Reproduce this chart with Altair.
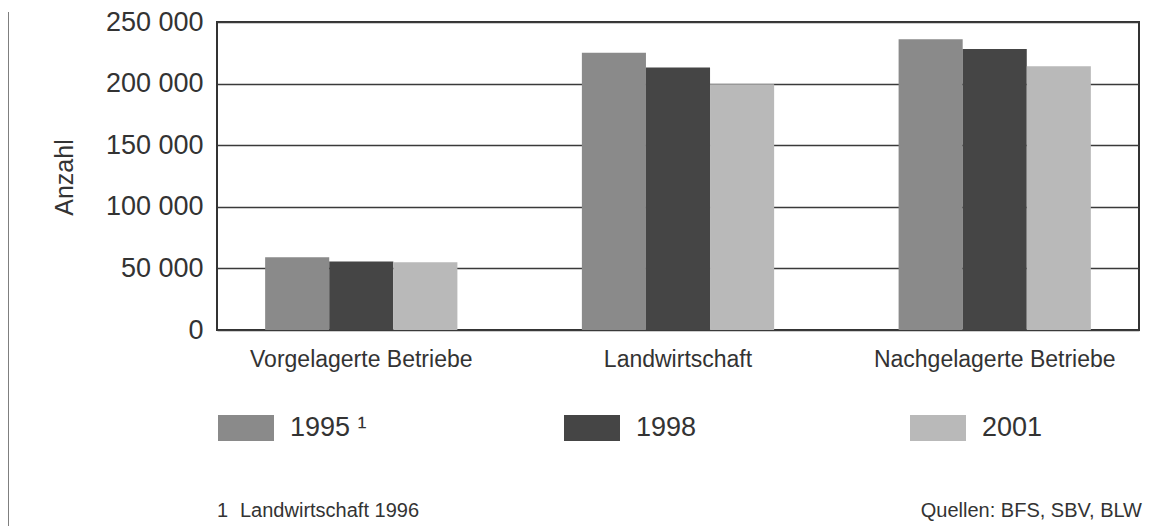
import altair as alt
import pandas as pd

categories = ["Vorgelagerte Betriebe", "Landwirtschaft", "Nachgelagerte Betriebe"]
years = ["1995", "1998", "2001"]
values_1995 = [59000, 225000, 236000]
values_1998 = [55500, 213000, 228000]
values_2001 = [55000, 199500, 214000]
y_ticks = [0, 50000, 100000, 150000, 200000, 250000]
colors = ["#8a8a8a", "#454545", "#b9b9b9"]
footnote_mark = "1"
footnote = "Landwirtschaft 1996"
source = "Quellen: BFS, SBV, BLW"

rows = []
for yr, vals in zip(years, [values_1995, values_1998, values_2001]):
    for c, v in zip(categories, vals):
        rows.append({"Bereich": c, "Jahr": yr, "Anzahl": v})
df = pd.DataFrame(rows)

FONT = "Liberation Sans"
TXT = "#333333"

bars = alt.Chart(df).mark_bar().encode(
    x=alt.X(
        "Bereich:N", sort=categories,
        scale=alt.Scale(paddingInner=0.393, paddingOuter=0.152),
        axis=alt.Axis(title=None, labelAngle=0, labelFontSize=23, labelPadding=18,
                      labelLimit=500, ticks=False, domain=False, labelFont=FONT,
                      labelColor=TXT, grid=False),
    ),
    xOffset=alt.XOffset("Jahr:N", sort=years,
                        scale=alt.Scale(paddingInner=0, paddingOuter=0)),
    y=alt.Y(
        "Anzahl:Q", scale=alt.Scale(domain=[0, 250000]),
        axis=alt.Axis(values=y_ticks,
                      labelExpr="replace(format(datum.value, ','), ',', ' ')",
                      title="Anzahl", titleFontSize=25, titleFontWeight="normal",
                      titleFont=FONT, titleColor=TXT, titleX=-145, titleY=155,
                      titleBaseline="alphabetic",
                      labelFontSize=27, labelFont=FONT, labelColor=TXT,
                      labelPadding=14, ticks=False, domain=False,
                      grid=True, gridColor="#3a3a3a", gridWidth=1.6),
    ),
    color=alt.Color(
        "Jahr:N", scale=alt.Scale(domain=years, range=colors),
        legend=alt.Legend(title=None, orient="none", legendX=1, legendY=378,
                          direction="horizontal",
                          symbolType="M-1,-0.464H1V0.464H-1Z", symbolSize=3136,
                          symbolStrokeWidth=0, symbolOpacity=1,
                          labelFontSize=27, labelFont=FONT, labelColor=TXT,
                          labelOffset=16, columnPadding=197, gridAlign="all",
                          labelExpr="datum.label == '1995' ? '1995 \u00b9' : datum.label"),
    ),
)

foot_mark = alt.Chart(pd.DataFrame({"t": [footnote_mark]})).mark_text(
    align="left", baseline="alphabetic", font=FONT, fontSize=20, color=TXT
).encode(x=alt.value(0), y=alt.value(495), text="t:N")

foot = alt.Chart(pd.DataFrame({"t": [footnote]})).mark_text(
    align="left", baseline="alphabetic", font=FONT, fontSize=20, color=TXT
).encode(x=alt.value(23), y=alt.value(495), text="t:N")

src = alt.Chart(pd.DataFrame({"t": [source]})).mark_text(
    align="right", baseline="alphabetic", font=FONT, fontSize=20, color=TXT
).encode(x=alt.value(925), y=alt.value(495), text="t:N")

edge = alt.Chart(pd.DataFrame({"a": [0]})).mark_rule(
    color="#555555", strokeWidth=1.5
).encode(x=alt.value(-209), y=alt.value(-10), y2=alt.value(504))

chart = alt.layer(bars, foot_mark, foot, src, edge).properties(
    width=922, height=308,
    autosize=alt.AutoSizeParams(type="none"),
    padding={"left": 209, "top": 14, "right": 10, "bottom": 196},
    background="white",
).configure_view(stroke="#333333", strokeWidth=2)

chart.save("out.html", embed_options={"renderer": "svg", "actions": False})
